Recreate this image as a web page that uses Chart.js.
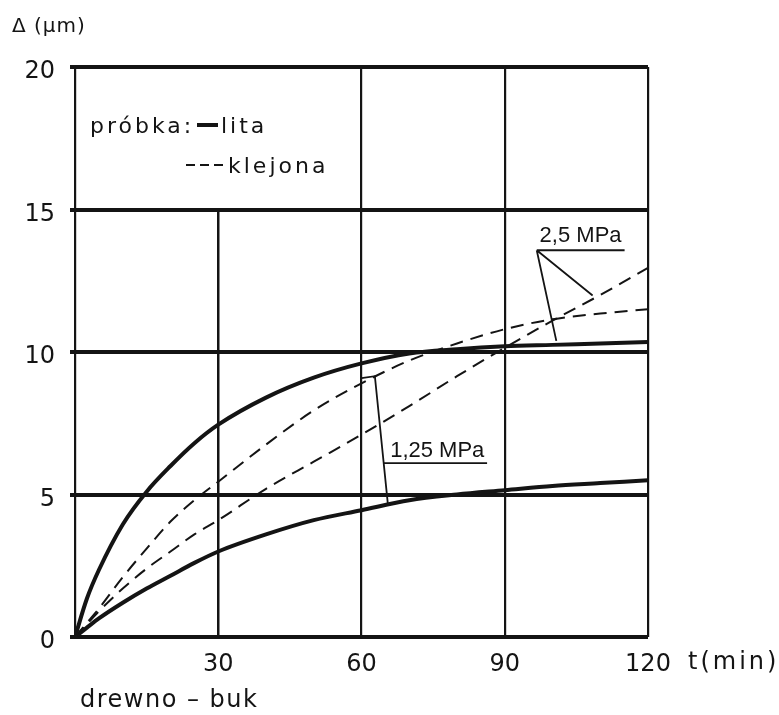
<!DOCTYPE html>
<html>
<head>
<meta charset="utf-8">
<script src="https://cdn.jsdelivr.net/npm/chart.js@4"></script>
<style>
  html, body { margin: 0; padding: 0; background: #fff; }
  #wrap { width: 779px; height: 715px; }
</style>
</head>
<body>
<div id="wrap"><canvas id="creepChart" width="779" height="715"></canvas></div>
<script>
// time axis (min) and deflection (µm) for each sample
const time = [0, 2.5, 5, 10, 15, 20, 25, 30, 40, 50, 60, 70, 80, 90, 100, 110, 120];
const lita25 = [0, 1.35, 2.35, 3.95, 5.1, 6.0, 6.8, 7.45, 8.4, 9.1, 9.6, 9.95, 10.1, 10.2, 10.25, 10.3, 10.35];
const lita125 = [0, 0.33, 0.65, 1.2, 1.7, 2.15, 2.6, 3.0, 3.6, 4.1, 4.45, 4.8, 5.0, 5.15, 5.3, 5.4, 5.5];
const klejonaA = [0, 0.5, 1.0, 2.1, 3.1, 4.05, 4.8, 5.45, 6.75, 7.95, 8.9, 9.7, 10.3, 10.8, 11.15, 11.35, 11.5];
const klejonaB = [0, 0.45, 0.9, 1.7, 2.4, 3.0, 3.6, 4.1, 5.2, 6.15, 7.1, 8.1, 9.15, 10.15, 11.1, 12.0, 12.95];

const xTicks = [0, 30, 60, 90, 120];
const yTicks = [0, 5, 10, 15, 20];

// pressure labels with their leader lines, in axis units
const labels = [
  { text: '2,5 MPa', at: [97.3, 13.85], line: [96.7, 115.1, 13.57],
    leaders: [[[96.7, 13.57], [108.4, 11.98]], [[96.7, 13.57], [100.8, 10.39]]] },
  { text: '1,25 MPa', at: [66.0, 6.32], line: [64.7, 86.3, 6.1],
    leaders: [[[60.0, 9.08], [62.8, 9.15], [65.5, 4.7]]] }
];

const INK = '#141414';
const FONT = 'DejaVu Sans';

function pts(ys) {
  return time.map((t, i) => ({ x: t, y: ys[i] }));
}

const solid = { borderColor: INK, borderWidth: 4, pointRadius: 0, fill: false,
  cubicInterpolationMode: 'monotone' };
const dashed = { borderColor: INK, borderWidth: 2, borderDash: [13, 8], pointRadius: 0,
  fill: false, cubicInterpolationMode: 'monotone' };

const decor = {
  id: 'decor',
  beforeDatasetsDraw(chart) {
    const { ctx, scales: { x, y } } = chart;
    // the 30 min line only runs below the legend box
    ctx.save();
    ctx.strokeStyle = INK;
    ctx.lineWidth = 2.5;
    ctx.beginPath();
    ctx.moveTo(x.getPixelForValue(30), y.getPixelForValue(0));
    ctx.lineTo(x.getPixelForValue(30), y.getPixelForValue(15));
    ctx.stroke();
    ctx.restore();
  },
  afterDatasetsDraw(chart) {
    const { ctx, chartArea: a, scales: { x, y } } = chart;
    ctx.save();
    ctx.fillStyle = INK;
    ctx.strokeStyle = INK;
    ctx.textBaseline = 'alphabetic';
    ctx.textAlign = 'left';

    // axis captions
    ctx.letterSpacing = '1px';
    ctx.font = `20px "${FONT}"`;
    ctx.fillText('Δ (µm)', 12, 32);
    ctx.letterSpacing = '3px';
    ctx.font = `24px "${FONT}"`;
    ctx.fillText('t(min)', 688, 669);
    ctx.letterSpacing = '1.5px';
    ctx.fillText('drewno – buk', 80, 707);

    // legend
    ctx.letterSpacing = '3px';
    ctx.font = `22px "${FONT}"`;
    ctx.fillText('próbka:', a.left + 15, 133);
    ctx.fillText('lita', a.left + 146, 133);
    ctx.fillText('klejona', a.left + 153, 173);
    ctx.letterSpacing = '0px';
    ctx.lineWidth = 4;
    ctx.beginPath();
    ctx.moveTo(a.left + 122, 125);
    ctx.lineTo(a.left + 143, 125);
    ctx.stroke();
    ctx.lineWidth = 2;
    for (let i = 0; i < 3; i++) {
      ctx.beginPath();
      ctx.moveTo(a.left + 111 + i * 14, 165);
      ctx.lineTo(a.left + 120 + i * 14, 165);
      ctx.stroke();
    }

    // pressure labels
    ctx.font = '22px "Liberation Sans"';
    ctx.lineWidth = 1.8;
    labels.forEach(l => {
      ctx.fillText(l.text, x.getPixelForValue(l.at[0]), y.getPixelForValue(l.at[1]));
      ctx.beginPath();
      ctx.moveTo(x.getPixelForValue(l.line[0]), y.getPixelForValue(l.line[2]));
      ctx.lineTo(x.getPixelForValue(l.line[1]), y.getPixelForValue(l.line[2]));
      l.leaders.forEach(seg => {
        seg.forEach((p, i) => {
          const px = x.getPixelForValue(p[0]), py = y.getPixelForValue(p[1]);
          if (i === 0) ctx.moveTo(px, py); else ctx.lineTo(px, py);
        });
      });
      ctx.stroke();
    });
    ctx.restore();
  }
};

new Chart(document.getElementById('creepChart'), {
  type: 'line',
  data: {
    datasets: [
      { label: 'lita 2,5 MPa', data: pts(lita25), ...solid },
      { label: 'lita 1,25 MPa', data: pts(lita125), ...solid },
      { label: 'klejona (górna)', data: pts(klejonaA), ...dashed },
      { label: 'klejona (dolna)', data: pts(klejonaB), ...dashed }
    ]
  },
  options: {
    responsive: false,
    animation: false,
    layout: { padding: { left: 0, top: 67, right: 131, bottom: 0 } },
    plugins: { legend: { display: false }, tooltip: { enabled: false } },
    scales: {
      x: {
        type: 'linear', min: 0, max: 120,
        afterBuildTicks: s => { s.ticks = xTicks.map(v => ({ value: v })); },
        afterFit: s => { s.height = 78; },
        border: { display: false },
        grid: {
          drawTicks: false,
          color: c => (c.tick && c.tick.value === 30 ? 'rgba(0,0,0,0)' : INK),
          lineWidth: 2.2
        },
        ticks: {
          color: INK, padding: 13,
          font: { family: FONT, size: 24 },
          callback: v => (v === 0 ? '' : v)
        }
      },
      y: {
        min: 0, max: 20,
        afterBuildTicks: s => { s.ticks = yTicks.map(v => ({ value: v })); },
        afterFit: s => { s.width = 75; },
        border: { display: false },
        grid: { color: INK, lineWidth: 4, drawTicks: true, tickLength: 5, tickColor: INK },
        ticks: {
          color: INK, padding: 15, labelOffset: 5,
          font: { family: FONT, size: 24 }
        }
      }
    }
  },
  plugins: [decor]
});
</script>
</body>
</html>
